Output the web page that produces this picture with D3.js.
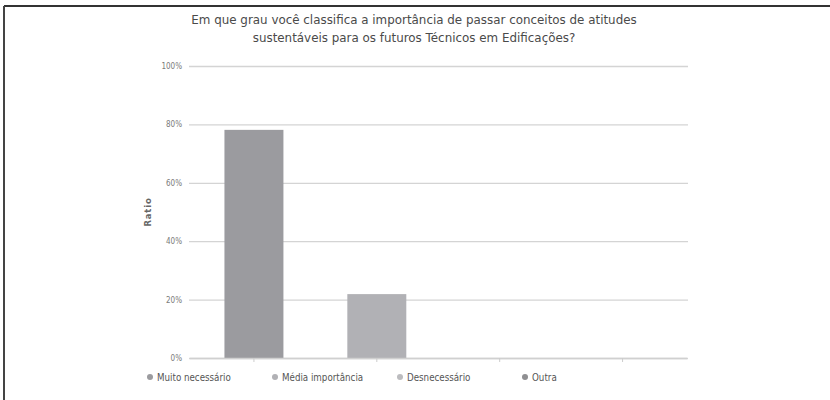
<!DOCTYPE html>
<html>
<head>
<meta charset="utf-8">
<script src="https://cdn.jsdelivr.net/npm/d3@7/dist/d3.min.js"></script>
<style>
  html, body { margin: 0; padding: 0; background: #fff; }
  svg { display: block; }
</style>
</head>
<body>
<svg id="chart" width="830" height="400"></svg>
<script>
// Survey answers and share of respondents (%)
const categories = ["Muito necessário", "Média importância", "Desnecessário", "Outra"];
const ratios = [78.13, 21.88, 0, 0];
const yTicks = [0, 20, 40, 60, 80, 100];
const barColors = ["#9b9b9f", "#b1b1b5", "#bcbcbf", "#8f8f92"];
const titleLines = [
  "Em que grau você classifica a importância de passar conceitos de atitudes",
  "sustentáveis para os futuros Técnicos em Edificações?"
];

const svg = d3.select("#chart");

// frame
svg.append("line").attr("x1", 4).attr("x2", 830).attr("y1", 6).attr("y2", 6)
  .attr("stroke", "#333").attr("stroke-width", 2);
svg.append("line").attr("x1", 4).attr("x2", 4).attr("y1", 6).attr("y2", 400)
  .attr("stroke", "#444").attr("stroke-width", 2);

// title
svg.append("g").selectAll("text").data(titleLines).join("text")
  .attr("x", 414).attr("y", (d, i) => 24 + i * 18)
  .attr("text-anchor", "middle")
  .attr("font-family", "DejaVu Sans")
  .attr("font-size", 11.9)
  .attr("fill", "#4a4a4a")
  .text(d => d);

const x = d3.scaleBand().domain(categories).range([192.5, 684])
  .paddingInner(0.52).paddingOuter(0.26);
const y = d3.scaleLinear().domain([0, 100]).range([358, 66]);

// grid
const grid = svg.append("g")
  .attr("transform", "translate(189,0)")
  .call(d3.axisLeft(y).tickValues(yTicks).tickSize(-499).tickFormat(d => d + "%"));
grid.select(".domain").remove();
grid.selectAll(".tick line").attr("stroke", "#d4d4d4").attr("stroke-width", 1.3);
grid.selectAll(".tick text")
  .attr("x", -7)
  .attr("font-family", "DejaVu Sans Condensed, DejaVu Sans")
  .attr("font-size", 8)
  .attr("fill", "#7a7a7a");

// bars
svg.append("g").selectAll("rect").data(categories).join("rect")
  .attr("x", d => x(d))
  .attr("width", x.bandwidth())
  .attr("y", (d, i) => y(ratios[i]))
  .attr("height", (d, i) => y(0) - y(ratios[i]))
  .attr("fill", (d, i) => barColors[i]);

// category axis
const xa = svg.append("g")
  .attr("transform", "translate(0,358)")
  .call(d3.axisBottom(x).tickSize(4).tickFormat(""));
xa.select(".domain").attr("d", "M190,0.5H687").attr("stroke", "#d0d0d0").attr("stroke-width", 1.3);
xa.selectAll(".tick line").attr("stroke", "#cccccc");

// y axis title
svg.append("text")
  .attr("transform", "translate(151,212) rotate(-90)")
  .attr("text-anchor", "middle")
  .attr("font-family", "DejaVu Sans")
  .attr("font-weight", "bold")
  .attr("font-size", 8.5)
  .attr("letter-spacing", 0.8)
  .attr("fill", "#666")
  .text("Ratio");

// legend
const leg = svg.append("g").selectAll("g").data(categories).join("g")
  .attr("transform", (d, i) => `translate(${150 + i * 125},377)`);
leg.append("circle").attr("r", 3).attr("fill", (d, i) => barColors[i]);
leg.append("text")
  .attr("x", 7).attr("y", 3.5)
  .attr("font-family", "DejaVu Sans Condensed, DejaVu Sans")
  .attr("font-size", 9.7)
  .attr("fill", "#555")
  .text(d => d);
</script>
</body>
</html>
